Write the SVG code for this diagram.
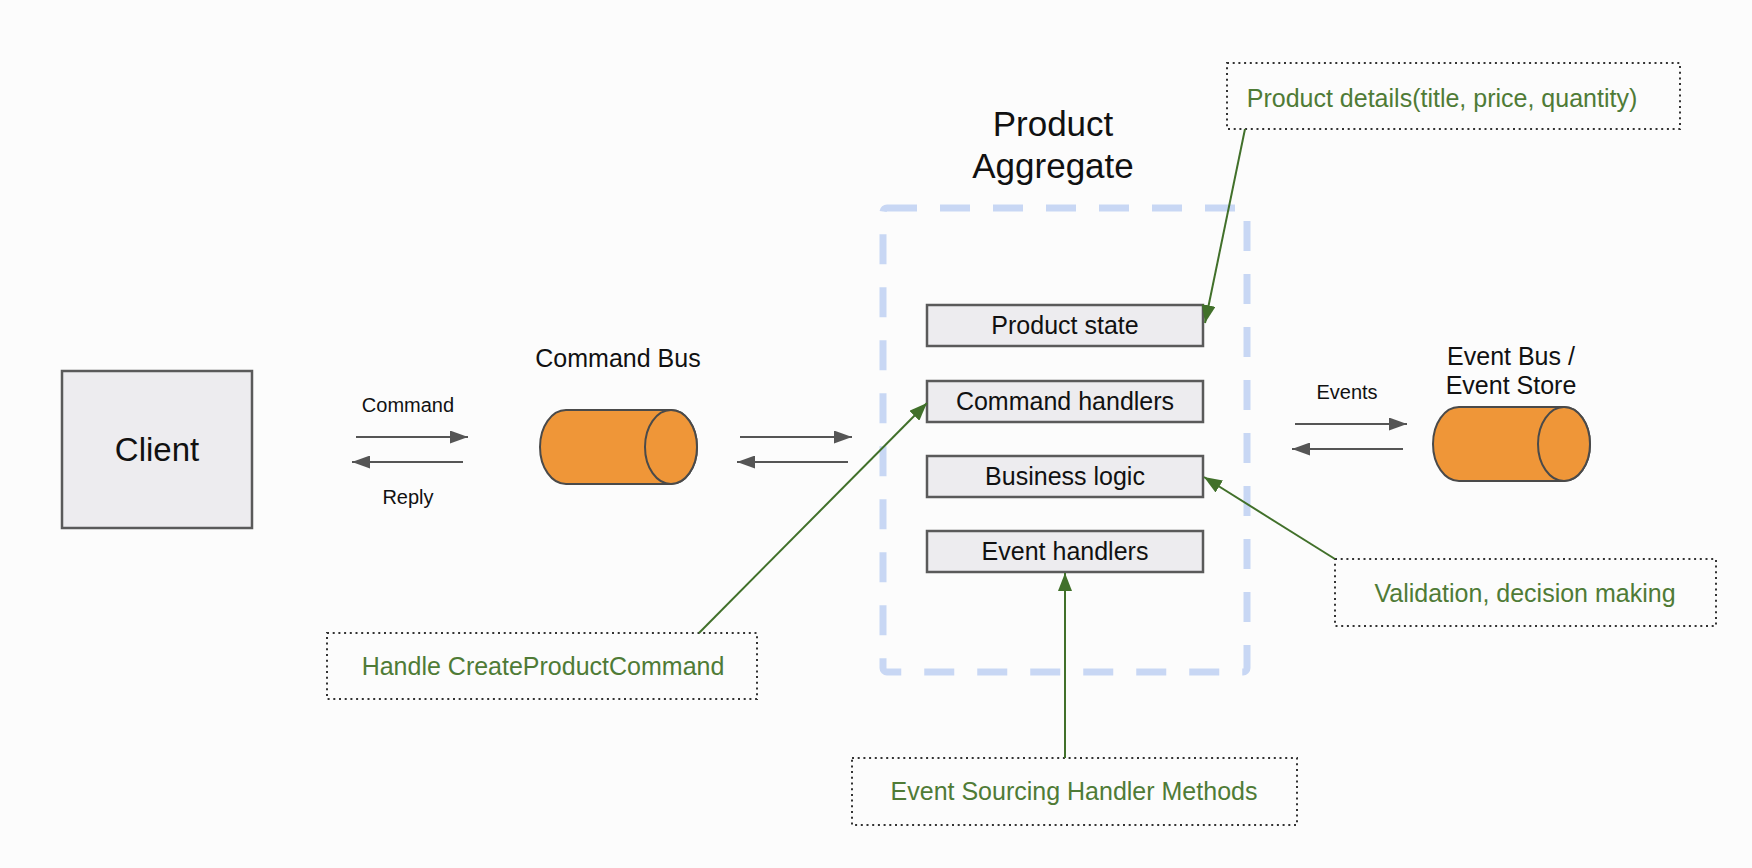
<svg xmlns="http://www.w3.org/2000/svg" width="1752" height="868" viewBox="0 0 1752 868">
<style>
text{font-family:"Liberation Sans",Arial,sans-serif;text-anchor:middle;fill:#111}
.box{fill:#edecef;stroke:#5a5a5a;stroke-width:2.5}
.cyl{fill:#ef9638;stroke:#4a4a4a;stroke-width:2}
.note{fill:none;stroke:#333;stroke-width:2;stroke-dasharray:2 3.7}
.gt{fill:#4f7b36;font-size:25px}
.arr{stroke:#555;stroke-width:2.2;fill:none;marker-end:url(#ga)}
.grn{stroke:#41702a;stroke-width:2;fill:none;marker-end:url(#gr)}
</style>
<defs>
<marker id="ga" markerUnits="userSpaceOnUse" markerWidth="18" markerHeight="13" refX="18" refY="6.5" orient="auto"><path d="M0,0 L18,6.5 L0,13 Z" fill="#555"/></marker>
<marker id="gr" markerUnits="userSpaceOnUse" markerWidth="18" markerHeight="14" refX="18" refY="7" orient="auto"><path d="M0,0 L18,7 L0,14 Z" fill="#41702a"/></marker>
</defs>
<rect width="1752" height="868" fill="#fcfcfc"/>

<g id="client">
<rect class="box" x="62" y="371" width="190" height="157"/>
<text x="157" y="461" font-size="33">Client</text>
</g>

<g id="command-bus">
<text x="618" y="367" font-size="25">Command Bus</text>
<path class="cyl" d="M566,410 H671 A26,37 0 0 1 671,484 H566 A26,37 0 0 1 566,410 Z"/>
<ellipse class="cyl" cx="671" cy="447" rx="26" ry="37"/>
</g>

<g id="product-aggregate">
<text x="1053" y="136" font-size="35">Product</text>
<text x="1053" y="178" font-size="35">Aggregate</text>
<rect x="883" y="208" width="364" height="464" rx="4" fill="none" stroke="#c8d7f4" stroke-width="7" stroke-dasharray="30 23"/>
</g>

<g id="product-state">
<rect class="box" x="927" y="305" width="276" height="41"/>
<text x="1065" y="334" font-size="25">Product state</text>
</g>
<g id="command-handlers">
<rect class="box" x="927" y="381" width="276" height="41"/>
<text x="1065" y="410" font-size="25">Command handlers</text>
</g>
<g id="business-logic">
<rect class="box" x="927" y="456" width="276" height="41"/>
<text x="1065" y="485" font-size="25">Business logic</text>
</g>
<g id="event-handlers">
<rect class="box" x="927" y="531" width="276" height="41"/>
<text x="1065" y="560" font-size="25">Event handlers</text>
</g>

<g id="event-bus">
<text x="1511" y="365" font-size="25">Event Bus /</text>
<text x="1511" y="394" font-size="25">Event Store</text>
<path class="cyl" d="M1459,407 H1564 A26,37 0 0 1 1564,481 H1459 A26,37 0 0 1 1459,407 Z"/>
<ellipse class="cyl" cx="1564" cy="444" rx="26" ry="37"/>
</g>

<g id="note-product-details">
<rect class="note" x="1227" y="63" width="453" height="66"/>
<text class="gt" x="1442" y="107">Product details(title, price, quantity)</text>
</g>
<g id="note-validation">
<rect class="note" x="1335" y="559" width="381" height="67"/>
<text class="gt" x="1525" y="602">Validation, decision making</text>
</g>
<g id="note-handle">
<rect class="note" x="327" y="633" width="430" height="66"/>
<text class="gt" x="543" y="675">Handle CreateProductCommand</text>
</g>
<g id="note-event-sourcing">
<rect class="note" x="852" y="758" width="445" height="67"/>
<text class="gt" x="1074" y="800">Event Sourcing Handler Methods</text>
</g>

<g id="connectors">
<line class="arr" x1="356" y1="437" x2="468" y2="437"/>
<line class="arr" x1="463" y1="462" x2="352" y2="462"/>
<text x="408" y="412" font-size="20">Command</text>
<text x="408" y="504" font-size="20">Reply</text>
<line class="arr" x1="740" y1="437" x2="852" y2="437"/>
<line class="arr" x1="848" y1="462" x2="737" y2="462"/>
<line class="arr" x1="1295" y1="424" x2="1407" y2="424"/>
<line class="arr" x1="1403" y1="449" x2="1292" y2="449"/>
<text x="1347" y="399" font-size="20">Events</text>
<line class="grn" x1="1245" y1="129" x2="1205" y2="323"/>
<line class="grn" x1="699" y1="633" x2="927" y2="403"/>
<line class="grn" x1="1335" y1="559" x2="1204" y2="477"/>
<line class="grn" x1="1065" y1="758" x2="1065" y2="573"/>
</g>
</svg>
